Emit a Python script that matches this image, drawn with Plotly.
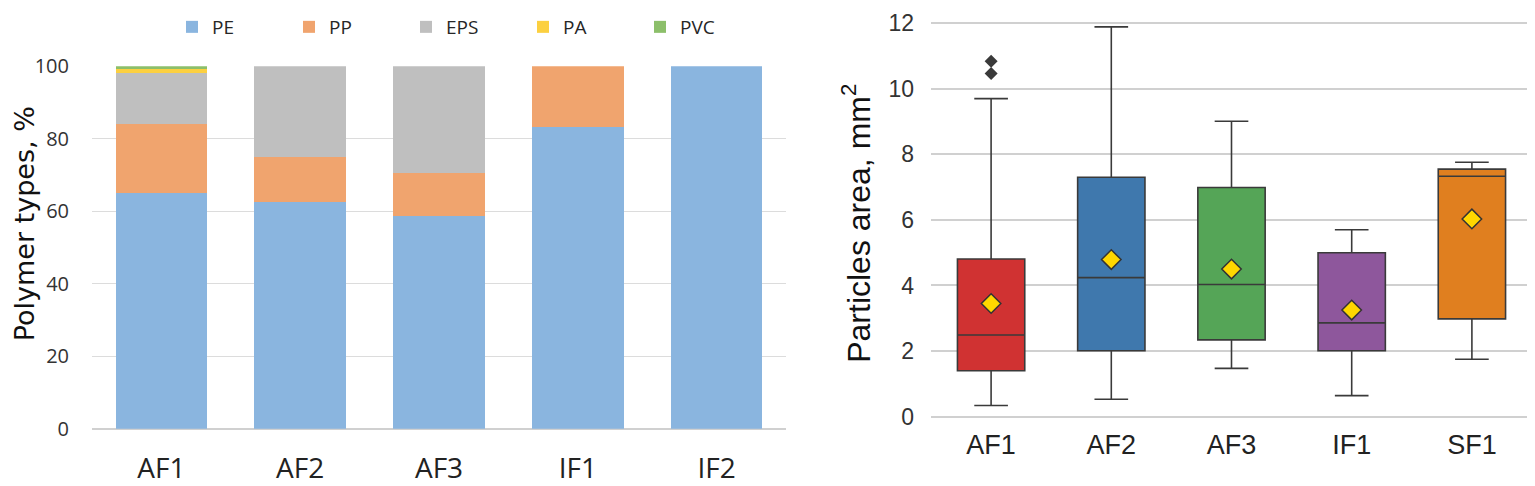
import plotly.graph_objects as go

# ---------- left panel : polymer composition ----------
sites = ["AF1", "AF2", "AF3", "IF1", "IF2"]
pe = [65.0, 62.5, 58.8, 83.3, 100.0]
pp = [19.2, 12.5, 11.8, 16.7, 0.0]
eps = [13.9, 25.0, 29.4, 0.0, 0.0]
pa = [1.2, 0.0, 0.0, 0.0, 0.0]
pvc = [0.7, 0.0, 0.0, 0.0, 0.0]

polymer_names = ["PE", "PP", "EPS", "PA", "PVC"]
polymer_colors = ["#8ab5df", "#f0a46e", "#bfbfbf", "#fcd040", "#8cbf6a"]

# ---------- right panel : particle area box stats ----------
box_sites = ["AF1", "AF2", "AF3", "IF1", "SF1"]
q1 = [1.40, 2.01, 2.34, 2.01, 2.98]
median = [2.49, 4.24, 4.03, 2.86, 7.33]
q3 = [4.81, 7.30, 6.99, 5.00, 7.55]
lower = [0.34, 0.53, 1.47, 0.64, 1.75]
upper = [9.70, 11.89, 9.01, 5.70, 7.76]
means = [3.45, 4.79, 4.50, 3.25, 6.03]
outlier_x = ["AF1", "AF1"]
outlier_y = [10.47, 10.84]
box_colors = ["#d03232", "#3f78ad", "#55a557", "#8e579c", "#e07f1f"]

fig = go.Figure()

for name, vals, col in zip(polymer_names, [pe, pp, eps, pa, pvc], polymer_colors):
    fig.add_trace(go.Bar(x=sites, y=vals, name=name, marker_color=col,
                         marker_line_width=0, xaxis="x", yaxis="y"))

for i, s in enumerate(box_sites):
    fig.add_trace(go.Box(
        x=[s], q1=[q1[i]], median=[median[i]], q3=[q3[i]],
        lowerfence=[lower[i]], upperfence=[upper[i]],
        fillcolor=box_colors[i], line=dict(color="#3a3a3a", width=1.6),
        whiskerwidth=0.5, showlegend=False, xaxis="x2", yaxis="y2"))

fig.add_trace(go.Scatter(x=outlier_x, y=outlier_y, mode="markers",
                         marker=dict(symbol="diamond", size=10, color="#3a3a3a"),
                         showlegend=False, xaxis="x2", yaxis="y2"))
fig.add_trace(go.Scatter(x=box_sites, y=means, mode="markers",
                         marker=dict(symbol="diamond", size=15, color="#ffd700",
                                     line=dict(color="#333333", width=1.5)),
                         showlegend=False, xaxis="x2", yaxis="y2"))

# page body has an 8px margin, so lay out in screen pixels minus that offset
OFF = 8
W, H = 1535 - OFF, 486 - OFF


def px_x(x):
    return (x - OFF) / W


def px_y(y):
    return 1 - (y - OFF) / H


left_font = "Open Sans, Lato, sans-serif"
right_font = "Liberation Sans, Arial, sans-serif"

# left y title sits a bit above the axis centre, as in the original
fig.add_annotation(text="Polymer types, %", xref="paper", yref="paper",
                   x=px_x(24), y=px_y(221), xanchor="center", yanchor="middle",
                   textangle=-90, showarrow=False,
                   font=dict(family="DejaVu Sans, sans-serif", size=27, color="#111111"))

fig.update_layout(
    width=W, height=H,
    margin=dict(l=0, r=0, t=0, b=0),
    paper_bgcolor="white", plot_bgcolor="white",
    barmode="stack", bargap=0.34,
    boxmode="overlay", boxgap=0.2,
    legend=dict(orientation="h", x=px_x(172), xanchor="left", y=px_y(21), yanchor="middle",
                entrywidth=72, entrywidthmode="pixels", bgcolor="rgba(0,0,0,0)",
                font=dict(family=left_font, size=19, color="#262626"),
                traceorder="normal"),
    xaxis=dict(domain=[px_x(92), px_x(786)], showgrid=False, showline=False, ticks="",
               automargin=False,
               tickfont=dict(family=left_font, size=28, color="#222222"), ticklabelstandoff=20),
    yaxis=dict(domain=[px_y(428), px_y(61)], range=[0, 100], dtick=20,
               automargin=False,
               showgrid=True, gridcolor="#dcdcdc", gridwidth=1, zeroline=True,
               zerolinecolor="#d0d0d0", zerolinewidth=1.5,
               tickfont=dict(family=left_font, size=20, color="#333333"), ticklabelstandoff=22),
    xaxis2=dict(domain=[px_x(931), px_x(1532)], anchor="y2", showgrid=False, showline=False, ticks="",
                automargin=False, ticklabelstandoff=-4,
                tickfont=dict(family=right_font, size=27, color="#222222")),
    yaxis2=dict(domain=[px_y(429), px_y(10.7)], anchor="x2", range=[-0.4, 12.2], dtick=2,
                automargin=False,
                showgrid=True, gridcolor="#d0d0d0", gridwidth=1.5, zeroline=False,
                tickfont=dict(family=right_font, size=23, color="#333333"), ticklabelstandoff=16,
                title=dict(text="Particles area, mm<sup>2</sup>",
                           font=dict(family=right_font, size=32, color="#111111"),
                           standoff=8)),
)

fig.write_html("out.html")
